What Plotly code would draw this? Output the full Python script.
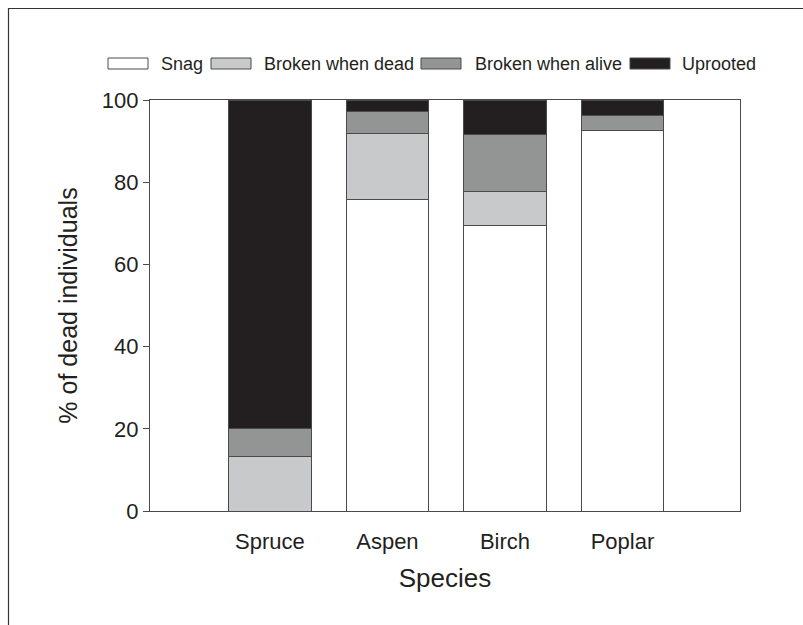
import plotly.graph_objects as go

# Species on the x axis
species = ["Spruce", "Aspen", "Birch", "Poplar"]

# Percentage of dead individuals in each mortality class
snag = [0.0, 75.7, 69.4, 92.6]
broken_dead = [13.3, 16.2, 8.3, 0.0]
broken_alive = [6.7, 5.4, 13.9, 3.7]
uprooted = [80.0, 2.7, 8.4, 3.7]

class_names = ["Snag", "Broken when dead", "Broken when alive", "Uprooted"]
class_values = [snag, broken_dead, broken_alive, uprooted]
class_colors = ["#ffffff", "#c8c9cb", "#939494", "#231f20"]

FONT = "Liberation Sans, Arial, Helvetica, sans-serif"
EDGE = "#4a4a4a"

W, H = 803, 625
ML, MR, MT, MB = 150, 63, 100, 114
PW = W - ML - MR
PH = H - MT - MB


def px_x(px):
    return (px - ML) / PW


def px_y(py):
    return (H - MB - py) / PH


fig = go.Figure()
for name, vals, col in zip(class_names, class_values, class_colors):
    fig.add_trace(go.Bar(
        x=species, y=vals, name=name, width=0.7,
        marker=dict(color=col, line=dict(color=EDGE, width=1)),
        showlegend=False,
    ))

# Hand-drawn legend row with wide swatches
shapes = []
annotations = []
box_left = [108, 211, 421, 630]
text_left = [159, 262, 473, 680]
for name, col, bx, tx in zip(class_names, class_colors, box_left, text_left):
    shapes.append(dict(
        type="rect", xref="paper", yref="paper",
        x0=px_x(bx), x1=px_x(bx + 40), y0=px_y(69), y1=px_y(58),
        fillcolor=col, line=dict(color=EDGE, width=1),
    ))
    annotations.append(dict(
        x=px_x(tx), y=px_y(63.5), xref="paper", yref="paper",
        text=name, showarrow=False, xanchor="left", yanchor="middle",
        font=dict(family=FONT, size=18, color="#231f20"),
    ))

# Outer frame around the figure
shapes.append(dict(
    type="rect", xref="paper", yref="paper",
    x0=px_x(8.5), x1=px_x(W + 20), y0=px_y(H + 20), y1=px_y(8.5),
    line=dict(color="#333333", width=1.2), fillcolor="rgba(0,0,0,0)",
    layer="below",
))

fig.update_layout(
    barmode="stack",
    width=W, height=H,
    margin=dict(l=ML, r=MR, t=MT, b=MB),
    paper_bgcolor="white", plot_bgcolor="white",
    font=dict(family=FONT, color="#231f20"),
    shapes=shapes,
    annotations=annotations,
    showlegend=False,
)

fig.update_xaxes(
    type="category", range=[-1.02, 4.0],
    showgrid=False, zeroline=False,
    showline=True, linecolor=EDGE, linewidth=1.3, mirror=True,
    ticks="", ticklabelstandoff=10,
    tickfont=dict(family=FONT, size=22, color="#231f20"),
    title=dict(text="Species", font=dict(family=FONT, size=26, color="#231f20"),
               standoff=16),
)

fig.update_yaxes(
    range=[0, 100], tickvals=[0, 20, 40, 60, 80, 100],
    showgrid=False, zeroline=False,
    showline=True, linecolor=EDGE, linewidth=1.3, mirror=True,
    ticks="outside", ticklen=6, tickcolor=EDGE, tickwidth=1.2,
    tickfont=dict(family=FONT, size=22, color="#231f20"),
    title=dict(text="% of dead individuals",
               font=dict(family=FONT, size=25, color="#231f20"),
               standoff=16),
)

fig.write_html("out.html")
